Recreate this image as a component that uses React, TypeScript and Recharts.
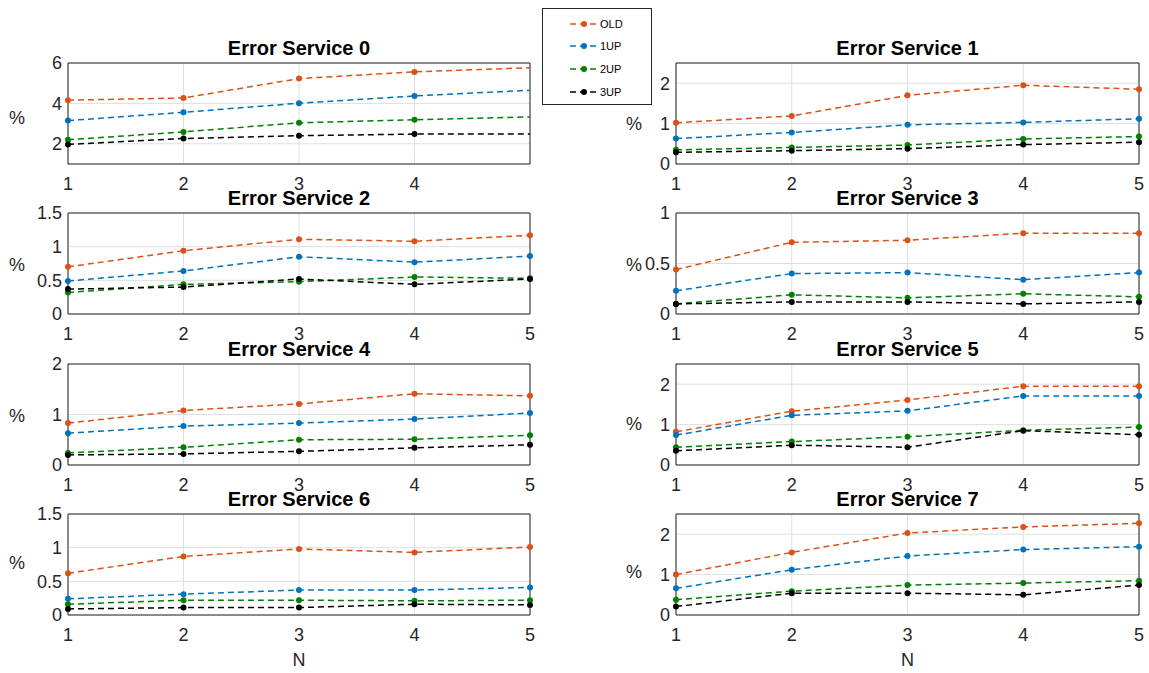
import React from 'react';
import { LineChart, Line, XAxis, YAxis, CartesianGrid, ReferenceArea } from 'recharts';

// ---------- data ----------
const N_VALUES = [1, 2, 3, 4, 5];
const SERIES_NAMES = ['OLD', '1UP', '2UP', '3UP'];
const SERIES_COLORS = ['#D95319', '#0072BD', '#008000', '#000000'];
const TITLES = [
  'Error Service 0', 'Error Service 1', 'Error Service 2', 'Error Service 3',
  'Error Service 4', 'Error Service 5', 'Error Service 6', 'Error Service 7',
];

// each: [OLD, 1UP, 2UP, 3UP]
const service0 = [
  [4.16, 4.27, 5.23, 5.56, 5.77],
  [3.15, 3.56, 4.01, 4.37, 4.65],
  [2.2, 2.59, 3.04, 3.19, 3.33],
  [1.97, 2.26, 2.4, 2.48, 2.48],
];
const service1 = [
  [1.02, 1.19, 1.7, 1.95, 1.85],
  [0.63, 0.78, 0.97, 1.03, 1.12],
  [0.35, 0.41, 0.47, 0.62, 0.68],
  [0.29, 0.33, 0.38, 0.48, 0.54],
];
const service2 = [
  [0.7, 0.94, 1.11, 1.08, 1.17],
  [0.49, 0.64, 0.85, 0.77, 0.86],
  [0.32, 0.44, 0.48, 0.55, 0.53],
  [0.37, 0.4, 0.52, 0.44, 0.52],
];
const service3 = [
  [0.44, 0.71, 0.73, 0.8, 0.8],
  [0.23, 0.4, 0.41, 0.34, 0.41],
  [0.1, 0.19, 0.16, 0.2, 0.17],
  [0.1, 0.12, 0.12, 0.1, 0.12],
];
const service4 = [
  [0.83, 1.08, 1.21, 1.41, 1.37],
  [0.63, 0.77, 0.83, 0.91, 1.03],
  [0.24, 0.35, 0.5, 0.51, 0.59],
  [0.2, 0.22, 0.27, 0.34, 0.4],
];
const service5 = [
  [0.82, 1.33, 1.61, 1.95, 1.95],
  [0.74, 1.23, 1.34, 1.71, 1.71],
  [0.44, 0.58, 0.7, 0.86, 0.94],
  [0.35, 0.49, 0.44, 0.85, 0.75],
];
const service6 = [
  [0.62, 0.87, 0.98, 0.93, 1.01],
  [0.24, 0.31, 0.37, 0.37, 0.41],
  [0.16, 0.22, 0.22, 0.21, 0.22],
  [0.09, 0.11, 0.11, 0.16, 0.15],
];
const service7 = [
  [1.0, 1.55, 2.03, 2.18, 2.27],
  [0.66, 1.12, 1.46, 1.62, 1.69],
  [0.38, 0.59, 0.74, 0.79, 0.85],
  [0.21, 0.54, 0.54, 0.5, 0.74],
];
const SERVICES = [service0, service1, service2, service3, service4, service5, service6, service7];

const Y_DOMAINS = [[1, 6], [0, 2.5], [0, 1.5], [0, 1], [0, 2], [0, 2.5], [0, 1.5], [0, 2.5]];
const Y_TICKS = [
  [2, 4, 6], [0, 1, 2], [0, 0.5, 1, 1.5], [0, 0.5, 1],
  [0, 1, 2], [0, 1, 2], [0, 0.5, 1, 1.5], [0, 1, 2],
];
const X_TICKS = [
  [1, 2, 3, 4], [1, 2, 3, 4, 5], [1, 2, 3, 4, 5], [1, 2, 3, 4, 5],
  [1, 2, 3, 4, 5], [1, 2, 3, 4, 5], [1, 2, 3, 4, 5], [1, 2, 3, 4, 5],
];
// markers not shown (panel 0 last point sits on the clipped edge)
const HIDDEN_DOTS = [[4], [], [], [], [], [], [], []];
const X_LABEL = 'N';
const Y_LABEL = '%';

// ---------- layout / style ----------
const FONT = '"Liberation Sans", Arial, Helvetica, sans-serif';
const AXIS_COLOR = '#262626';
const GRID_COLOR = '#dfdfdf';
const PLOT_LEFTS = [68, 676];
const PLOT_WIDTHS = [462, 463];
const PLOT_TOPS = [63, 213, 364, 514];
const PLOT_H = 101;
const YW = 60;
const TM = 10;
const RM = 10;
const XH = 40;
const PCT_X_OFFSET = [51, 42];
const PCT_Y_SHIFT = [4, 10, 1, 1.5, 1, 9.5, -2, 7.5];
const TICK_FS = 18;
const TITLE_FS = 20;

const makeDot = (color: string, hidden: number[]) => (props: any) => {
  const { cx, cy, index } = props;
  if (hidden.includes(index) || cx == null || cy == null) return <g key={`d-${index}`} />;
  return <circle key={`d-${index}`} cx={cx} cy={cy} r={3} fill={color} stroke="none" />;
};

function Panel({ i }: { i: number }) {
  const col = i % 2;
  const row = Math.floor(i / 2);
  const pl = PLOT_LEFTS[col];
  const pw = PLOT_WIDTHS[col];
  const pt = PLOT_TOPS[row];
  const series = SERVICES[i];
  const data = N_VALUES.map((n, j) => {
    const r: any = { n };
    SERIES_NAMES.forEach((name, k) => {
      r[name] = series[k][j];
    });
    return r;
  });
  const dom = Y_DOMAINS[i];
  const tickStyle = { fill: AXIS_COLOR, fontSize: TICK_FS, fontFamily: FONT };
  return (
    <>
      <div style={{ position: 'absolute', left: pl - YW, top: pt - TM }}>
        <LineChart
          width={YW + pw + RM}
          height={TM + PLOT_H + XH}
          data={data}
          margin={{ top: TM, right: RM, left: 0, bottom: 0 }}
        >
          <CartesianGrid stroke={GRID_COLOR} strokeWidth={1} />
          <XAxis
            dataKey="n"
            type="number"
            domain={[N_VALUES[0], N_VALUES[N_VALUES.length - 1]]}
            ticks={X_TICKS[i]}
            interval={0}
            height={XH}
            tickSize={0}
            tickMargin={13}
            axisLine={false}
            tickLine={false}
            tick={tickStyle}
          />
          <YAxis
            type="number"
            domain={dom}
            ticks={Y_TICKS[i]}
            interval={0}
            width={YW}
            tickSize={0}
            tickMargin={6}
            axisLine={false}
            tickLine={false}
            tick={tickStyle}
          />
          <ReferenceArea
            x1={N_VALUES[0]}
            x2={N_VALUES[N_VALUES.length - 1]}
            y1={dom[0]}
            y2={dom[1]}
            fill="none"
            fillOpacity={0}
            stroke={AXIS_COLOR}
            strokeWidth={1}
          />
          {SERIES_NAMES.map((name, k) => (
            <Line
              key={name}
              dataKey={name}
              type="linear"
              stroke={SERIES_COLORS[k]}
              strokeWidth={1.5}
              strokeDasharray="6 4"
              dot={makeDot(SERIES_COLORS[k], HIDDEN_DOTS[i])}
              activeDot={false}
              isAnimationActive={false}
            />
          ))}
        </LineChart>
      </div>
      <div
        style={{
          position: 'absolute',
          left: pl,
          width: pw,
          top: pt - 15 - TITLE_FS / 2,
          height: TITLE_FS,
          lineHeight: `${TITLE_FS}px`,
          fontSize: TITLE_FS,
          fontWeight: 'bold',
          textAlign: 'center',
          color: '#000',
          whiteSpace: 'nowrap',
        }}
      >
        {TITLES[i]}
      </div>
      <div
        style={{
          position: 'absolute',
          left: pl - PCT_X_OFFSET[col] - 20,
          width: 40,
          top: pt + PLOT_H / 2 + PCT_Y_SHIFT[i] - TICK_FS / 2,
          height: TICK_FS,
          lineHeight: `${TICK_FS}px`,
          fontSize: TICK_FS,
          textAlign: 'center',
          color: AXIS_COLOR,
        }}
      >
        {Y_LABEL}
      </div>
      {row === 3 && (
        <div
          style={{
            position: 'absolute',
            left: pl,
            width: pw,
            top: 660 - TICK_FS / 2,
            height: TICK_FS,
            lineHeight: `${TICK_FS}px`,
            fontSize: TICK_FS,
            textAlign: 'center',
            color: AXIS_COLOR,
          }}
        >
          {X_LABEL}
        </div>
      )}
    </>
  );
}

function LegendBox() {
  const itemY = [14.5, 37.2, 60, 82.8];
  return (
    <div
      style={{
        position: 'absolute',
        left: 542,
        top: 8,
        width: 108,
        height: 95,
        border: `1px solid ${AXIS_COLOR}`,
        background: '#fff',
      }}
    >
      {SERIES_NAMES.map((name, k) => (
        <div key={name} style={{ position: 'absolute', left: 0, top: itemY[k] - 7, height: 14, width: 108 }}>
          <svg width={32} height={14} style={{ position: 'absolute', left: 26, top: 0 }}>
            <line x1={1} y1={7} x2={29} y2={7} stroke={SERIES_COLORS[k]} strokeWidth={1.5} strokeDasharray="6 4" />
            <circle cx={15} cy={7} r={3} fill={SERIES_COLORS[k]} />
          </svg>
          <span
            style={{
              position: 'absolute',
              left: 57,
              top: 0,
              lineHeight: '14px',
              fontSize: 11,
              color: '#000',
            }}
          >
            {name}
          </span>
        </div>
      ))}
    </div>
  );
}

export default function App() {
  return (
    <div
      style={{
        position: 'absolute',
        left: 0,
        top: 0,
        width: 1149,
        height: 673,
        background: '#fff',
        fontFamily: FONT,
        overflow: 'hidden',
      }}
    >
      {SERVICES.map((_, i) => (
        <Panel key={i} i={i} />
      ))}
      <LegendBox />
    </div>
  );
}
